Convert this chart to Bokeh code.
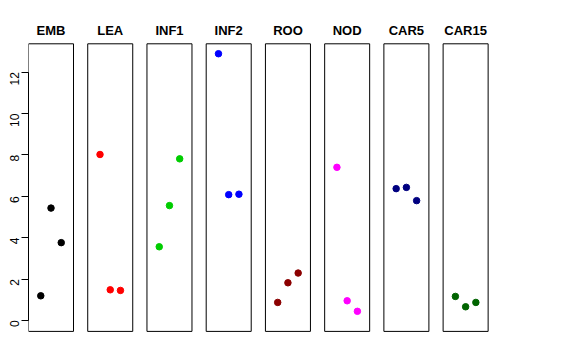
import math
from bokeh.plotting import figure
from bokeh.models import Range1d, FixedTicker
from bokeh.embed import file_html
from bokeh.resources import INLINE
from bokeh.core.properties import value

# ---- data ----
groups = ["EMB", "LEA", "INF1", "INF2", "ROO", "NOD", "CAR5", "CAR15"]
colors = ["black", "red", "#00CD00", "blue", "#8B0000", "magenta", "#000080", "#006400"]
positions = [1, 2, 3]
emb = [1.19, 5.43, 3.76]
lea = [8.02, 1.48, 1.45]
inf1 = [3.56, 5.55, 7.81]
inf2 = [12.89, 6.08, 6.10]
roo = [0.87, 1.82, 2.29]
nod = [7.40, 0.95, 0.44]
car5 = [6.37, 6.43, 5.79]
car15 = [1.16, 0.66, 0.87]
series = [emb, lea, inf1, inf2, roo, nod, car5, car15]
y_ticks = [0, 2, 4, 6, 8, 10, 12]

# ---- layout ----
px_per_x = 10.23
px_per_y = 20.69
panel_gap = 5.79          # x units between panel starts
x_lo, x_hi = -0.2, 4.2    # panel x extent
y_lo, y_hi = -0.53, 13.37 # panel y extent
frame_w, frame_h = 462, 332
top_pad = 8
y_top = y_hi + 35.3 / px_per_y
y_bot = y_top - frame_h / px_per_y

p = figure(frame_width=frame_w, frame_height=frame_h,
           x_range=Range1d(x_lo, x_lo + frame_w / px_per_x),
           y_range=Range1d(y_bot, y_top),
           output_backend="svg", toolbar_location=None,
           x_axis_location=None,
           min_border_top=top_pad, min_border_bottom=0,
           min_border_left=28, min_border_right=10)
p.outline_line_color = None
p.xgrid.visible = False
p.ygrid.visible = False
p.background_fill_color = "white"
p.border_fill_color = "white"

ax = p.yaxis[0]
ax.ticker = FixedTicker(ticks=y_ticks)
ax.bounds = (0, 12)
ax.major_tick_out = 7
ax.major_tick_in = 0
ax.minor_tick_line_color = None
ax.axis_line_color = "black"
ax.major_tick_line_color = "black"
ax.major_label_text_font = "Liberation Sans"
ax.major_label_text_font_size = "12px"
ax.major_label_text_color = "black"
ax.major_label_orientation = math.pi / 2
ax.major_label_standoff = 7

for i, (g, c, vals) in enumerate(zip(groups, colors, series)):
    off = i * panel_gap
    p.quad(left=[off + x_lo], right=[off + x_hi], bottom=[y_lo], top=[y_hi],
           fill_color=None, line_color="black", line_width=1)
    p.scatter(x=[off + xv for xv in positions], y=vals, size=6.5,
              fill_color=c, line_color=c)
    p.text(x=[off + (x_lo + x_hi) / 2], y=[y_hi + 0.66], text=[g],
           text_align="center", text_baseline="middle",
           text_font=value("Liberation Sans"), text_font_style="bold",
           text_font_size="13px", text_color="black")

open("out.html", "w").write(file_html(p, INLINE))
